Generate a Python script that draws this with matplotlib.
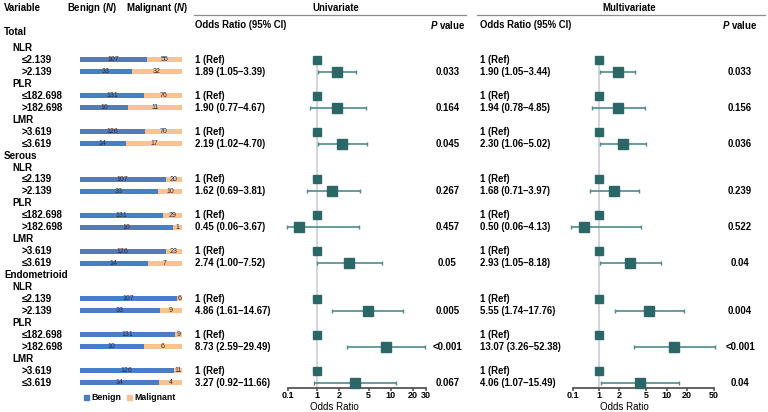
import numpy as np
import matplotlib.pyplot as plt
from matplotlib.patches import Patch

plt.rcParams['font.family'] = ['Liberation Sans', 'DejaVu Sans']
plt.rcParams['font.weight'] = 'bold'
plt.rcParams['mathtext.fontset'] = 'custom'
plt.rcParams['mathtext.rm'] = 'Liberation Sans:bold'
plt.rcParams['mathtext.bf'] = 'Liberation Sans:bold'
plt.rcParams['mathtext.bfit'] = 'Liberation Sans:italic:bold'

# data
groups = ['Total', 'Serous', 'Endometrioid']
variables = ['NLR', 'PLR', 'LMR']
levels = [['≤2.139', '>2.139'], ['≤182.698', '>182.698'], ['>3.619', '≤3.619']]

benign_n = [107, 33, 131, 10, 126, 14]
malignant_total = [55, 32, 76, 11, 70, 17]
malignant_serous = [20, 10, 29, 1, 23, 7]
malignant_endo = [6, 9, 9, 6, 11, 4]
malignant_n = [malignant_total, malignant_serous, malignant_endo]

uni_or = [1.89, 1.90, 2.19, 1.62, 0.45, 2.74, 4.86, 8.73, 3.27]
uni_lo = [1.05, 0.77, 1.02, 0.69, 0.06, 1.00, 1.61, 2.59, 0.92]
uni_hi = [3.39, 4.67, 4.70, 3.81, 3.67, 7.52, 14.67, 29.49, 11.66]
uni_p = ['0.033', '0.164', '0.045', '0.267', '0.457', '0.05', '0.005', '<0.001', '0.067']

multi_or = [1.90, 1.94, 2.30, 1.68, 0.50, 2.93, 5.55, 13.07, 4.06]
multi_lo = [1.05, 0.78, 1.06, 0.71, 0.06, 1.05, 1.74, 3.26, 1.07]
multi_hi = [3.44, 4.85, 5.02, 3.97, 4.13, 8.18, 17.76, 52.38, 15.49]
multi_p = ['0.033', '0.156', '0.036', '0.239', '0.522', '0.04', '0.004', '<0.001', '0.04']

uni_ticks = [0.1, 1, 2, 5, 10, 20, 30]
multi_ticks = [0.1, 1, 2, 5, 10, 20, 50]

BLUE = '#4A7EC2'
ORANGE = '#F8C291'
MARK = '#2C6767'
LINE = '#4E8B8B'
VLINE = '#D3D3DF'

W, H = 768, 412
FS = 6.9
AX_BOTTOM = 388


def row_y(k):
    # pixel y of a table row
    return 48 + 11.95 * k


def add_px_axes(fig, x0, x1, y0, y1):
    # y0 = top pixel, y1 = bottom pixel
    return fig.add_axes([x0 / W, 1 - y1 / H, (x1 - x0) / W, (y1 - y0) / H])


# scale: log above 1, squeezed below 1
def fwd(x):
    x = np.asarray(x, dtype=float)
    return np.where(x >= 1, np.log10(np.clip(x, 1, None)), (x - 1) * 0.43)


def inv(y):
    y = np.asarray(y, dtype=float)
    return np.where(y >= 0, 10 ** np.clip(y, 0, None), y / 0.43 + 1)


fig = plt.figure(figsize=(W / 100, H / 100), dpi=100)

bg = fig.add_axes([0, 0, 1, 1])
bg.set_xlim(0, W)
bg.set_ylim(H, 0)
bg.axis('off')

# headers
bg.text(4, 8, 'Variable', fontsize=FS, va='center')
bg.text(67, 8, r'Benign ($\mathbfit{N}$)', fontsize=FS, va='center')
bg.text(126, 8, r'Malignant ($\mathbfit{N}$)', fontsize=FS, va='center')
bg.text(336, 7.5, 'Univariate', fontsize=FS, va='center', ha='center')
bg.text(629, 7.5, 'Multivariate', fontsize=FS, va='center', ha='center')
bg.plot([194, 466], [15, 15], color='#8C8C8C', lw=0.9)
bg.plot([477, 765], [15, 15], color='#8C8C8C', lw=0.9)
bg.text(195, 25, 'Odds Ratio (95% CI)', fontsize=FS, va='center')
bg.text(480, 25, 'Odds Ratio (95% CI)', fontsize=FS, va='center')
bg.text(447.5, 25, r'$\mathbfit{P}$ value', fontsize=FS, va='center', ha='center')
bg.text(740, 25, r'$\mathbfit{P}$ value', fontsize=FS, va='center', ha='center')

ax_bar = add_px_axes(fig, 79.5, 182, 0, H)
ax_bar.set_xlim(0, 1)
ax_bar.set_ylim(H, 0)
ax_bar.axis('off')

ax_uni = add_px_axes(fig, 288.3, 426, 40, AX_BOTTOM)
ax_multi = add_px_axes(fig, 572.5, 714, 40, AX_BOTTOM)

forest = [
    (ax_uni, uni_or, uni_lo, uni_hi, uni_p, uni_ticks, 195, 447.5),
    (ax_multi, multi_or, multi_lo, multi_hi, multi_p, multi_ticks, 480, 740),
]

for ax, ors, los, his, ps, ticks, tx, px in forest:
    ax.set_xscale('function', functions=(fwd, inv))
    ax.set_xlim(ticks[0], ticks[-1])
    ax.set_ylim(AX_BOTTOM, 40)
    for s in ['top', 'left', 'right']:
        ax.spines[s].set_visible(False)
    ax.spines['bottom'].set_color('#555555')
    ax.spines['bottom'].set_linewidth(1.3)
    ax.set_yticks([])
    ax.set_xticks(ticks)
    ax.set_xticklabels([str(t) for t in ticks])
    ax.minorticks_off()
    ax.tick_params(axis='x', length=2.5, width=1.2, color='#555555', pad=0,
                   labelsize=6.5)
    ax.patch.set_alpha(0)
    ax.vlines(1, row_y(1) - 4, AX_BOTTOM, color=VLINE, lw=1.4, zorder=0)

for gi, g in enumerate(groups):
    gy = row_y(gi * 10 - 1) - (4 if gi == 0 else 0)
    bg.text(4, gy, g, fontsize=FS + 0.2, va='center')
    for vi, var in enumerate(variables):
        base = gi * 10 + vi * 3
        bg.text(12, row_y(base), var, fontsize=FS + 0.2, va='center')
        idx = gi * 3 + vi
        for li in range(2):
            y = row_y(base + 1 + li)
            bg.text(22, y, levels[vi][li], fontsize=FS + 0.2, va='center')

            # 100% stacked bar of counts
            b = benign_n[vi * 2 + li]
            m = malignant_n[gi][vi * 2 + li]
            tot = b + m
            ax_bar.barh(y, b / tot, height=5, color=BLUE)
            ax_bar.barh(y, m / tot, left=b / tot, height=5, color=ORANGE)
            ax_bar.text(b / tot / 2, y, str(b), fontsize=5, fontweight='normal',
                        color='#2A2A3A', ha='center', va='center')
            ax_bar.text(b / tot + m / tot / 2, y, str(m), fontsize=5,
                        fontweight='normal', color='#2A2A3A', ha='center', va='center')

        y_ref = row_y(base + 1)
        y_cmp = row_y(base + 2)
        for ax, ors, los, his, ps, ticks, tx, px in forest:
            ax.plot(1, y_ref, 's', ms=6, color=MARK, zorder=3, clip_on=False)
            eb = ax.errorbar(ors[idx], y_cmp,
                             xerr=[[ors[idx] - los[idx]], [his[idx] - ors[idx]]],
                             fmt='none', ecolor=LINE, elinewidth=1.2, capsize=1.5,
                             capthick=1.0, zorder=2)
            for art in eb.get_children():
                art.set_clip_on(False)
            ax.plot(ors[idx], y_cmp, 's', ms=6.5, color=MARK, zorder=3, clip_on=False)
            bg.text(tx, y_ref, '1 (Ref)', fontsize=FS, va='center')
            bg.text(tx, y_cmp, '{:.2f} ({:.2f}–{:.2f})'.format(ors[idx], los[idx], his[idx]),
                    fontsize=FS, va='center')
            bg.text(px, y_cmp, ps[idx], fontsize=FS, va='center', ha='center')

# x labels
lab_y = -(410 - AX_BOTTOM) / (AX_BOTTOM - 40)
ax_uni.set_xlabel('Odds Ratio', fontsize=7)
ax_uni.xaxis.set_label_coords((334 - 288.3) / (426 - 288.3), lab_y)
ax_multi.set_xlabel('Odds Ratio', fontsize=7)
ax_multi.xaxis.set_label_coords((624 - 572.5) / (714 - 572.5), lab_y)
for ax in [ax_uni, ax_multi]:
    ax.xaxis.label.set_va('baseline')

handles = [Patch(color=BLUE, label='Benign'), Patch(color=ORANGE, label='Malignant')]
fig.legend(handles=handles, loc='center', bbox_to_anchor=(130 / W, 1 - 398 / H),
           ncol=2, frameon=False, fontsize=6.3, handlelength=0.6, handleheight=0.6,
           handletextpad=0.3, columnspacing=0.6, borderpad=0)

fig.savefig('out.png', dpi=100)
